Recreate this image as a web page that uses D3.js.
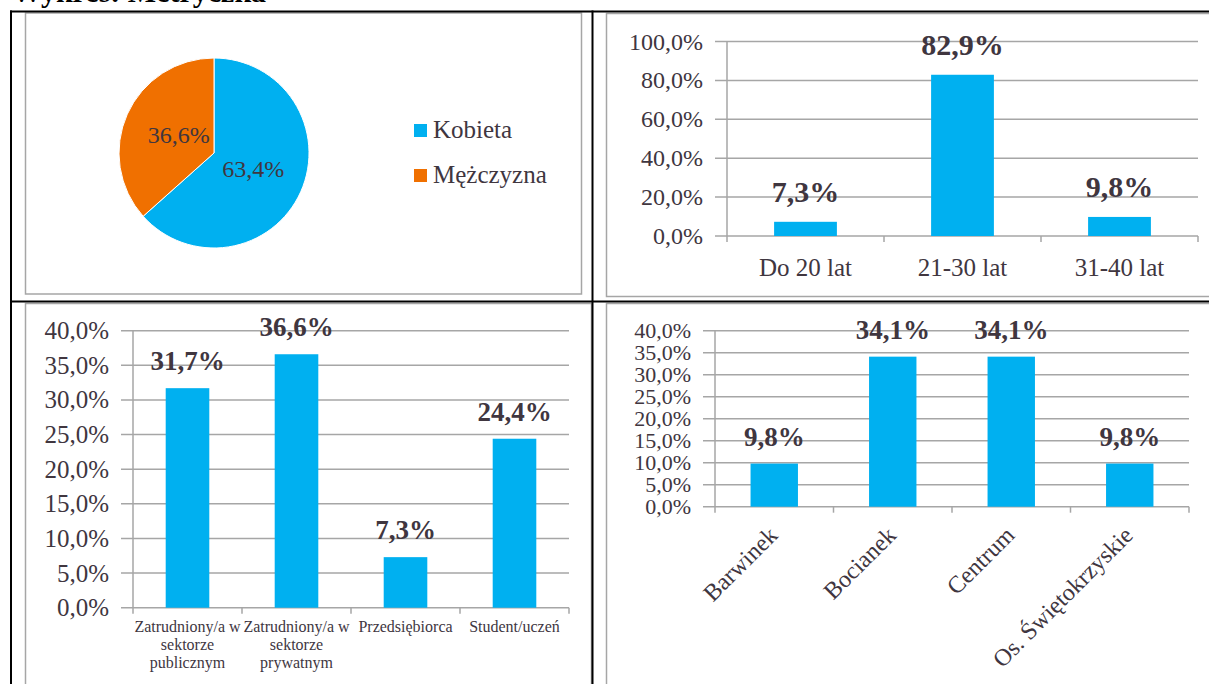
<!DOCTYPE html>
<html>
<head>
<meta charset="utf-8">
<script src="https://cdn.jsdelivr.net/npm/d3@7"></script>
<style>
  html, body { margin: 0; padding: 0; background: #fff; }
  svg { display: block; }
  svg text { font-family: "Liberation Serif", "Times New Roman", "DejaVu Serif", serif; fill: #40363f; }
</style>
</head>
<body>
<div id="chart"></div>
<script>
// dane
const genderLabels = ["Kobieta", "Mężczyzna"];
const genderValues = [63.4, 36.6];

const ageCats = ["Do 20 lat", "21-30 lat", "31-40 lat"];
const ageValues = [7.3, 82.9, 9.8];
const ageTicks = [0, 20, 40, 60, 80, 100];

const jobCats = [
  ["Zatrudniony/a w", "sektorze", "publicznym"],
  ["Zatrudniony/a w", "sektorze", "prywatnym"],
  ["Przedsiębiorca"],
  ["Student/uczeń"]
];
const jobValues = [31.7, 36.6, 7.3, 24.4];
const pctTicks = [0, 5, 10, 15, 20, 25, 30, 35, 40];

const areaCats = ["Barwinek", "Bocianek", "Centrum", "Os. Świętokrzyskie"];
const areaValues = [9.8, 34.1, 34.1, 9.8];

const BAR = "#00b0f0";
const ORANGE = "#f07000";
const GRID = "#a6a6a6";
const SERIF = "'Liberation Serif', 'Times New Roman', 'DejaVu Serif', serif";
const fmt = v => v.toFixed(1).replace(".", ",") + "%";

const svg = d3.select("#chart").append("svg")
  .attr("width", 1209)
  .attr("height", 684)
  .attr("font-family", SERIF);

// tytuł (ucięty u góry)
svg.append("text")
  .attr("x", 12)
  .attr("y", 2)
  .attr("font-family", SERIF)
  .attr("font-size", 30)
  .attr("font-weight", "bold")
  .style("fill", "#000")
  .text("Wykres: Metryczka");

// ramki wykresów (szare)
function box(x, y, w, h) {
  svg.append("rect")
    .attr("x", x).attr("y", y).attr("width", w).attr("height", h)
    .attr("fill", "none").attr("stroke", GRID).attr("stroke-width", 1.5);
}
box(25.5, 13, 556, 281);
box(606.5, 13.5, 640, 283);
box(25.5, 303.5, 566, 420);
box(606.5, 303.5, 640, 420);

// tabela (czarne linie)
const tbl = svg.append("g").attr("stroke", "#000").attr("stroke-width", 2);
tbl.append("line").attr("x1", 10).attr("x2", 1215).attr("y1", 11.5).attr("y2", 11.5);
tbl.append("line").attr("x1", 11).attr("x2", 11).attr("y1", 10.5).attr("y2", 690);
tbl.append("line").attr("x1", 592.5).attr("x2", 592.5).attr("y1", 10.5).attr("y2", 690);
tbl.append("line").attr("x1", 10).attr("x2", 1215).attr("y1", 301.5).attr("y2", 301.5);

// --- wykres kołowy ---
function drawPie() {
  const cx = 214, cy = 153, r = 95;
  const g = svg.append("g").attr("transform", `translate(${cx},${cy})`);
  const pie = d3.pie().sort(null)(genderValues);
  const arc = d3.arc().innerRadius(0).outerRadius(r);
  const labelArc = d3.arc().innerRadius(0).outerRadius(r * 0.86);
  const colors = [BAR, ORANGE];

  g.selectAll("path").data(pie).enter().append("path")
    .attr("d", arc)
    .attr("fill", (d, i) => colors[i])
    .attr("stroke", "#fff")
    .attr("stroke-width", 1);

  g.selectAll("text.lbl").data(pie).enter().append("text")
    .attr("class", "lbl")
    .attr("x", d => labelArc.centroid(d)[0] + 2)
    .attr("y", d => labelArc.centroid(d)[1] - 1)
    .attr("text-anchor", "middle")
    .attr("dominant-baseline", "central")
    .attr("font-family", SERIF)
    .attr("font-size", 24)
    .text(d => fmt(d.data));

  // legenda
  const leg = svg.append("g").attr("transform", "translate(414,124)");
  genderLabels.forEach((name, i) => {
    leg.append("rect")
      .attr("x", 0).attr("y", i * 45)
      .attr("width", 13).attr("height", 13)
      .attr("fill", colors[i]);
    leg.append("text")
      .attr("x", 19).attr("y", i * 45 + 14)
      .attr("font-family", SERIF)
      .attr("font-size", 25)
      .text(name);
  });
}

// --- wykres słupkowy ---
function drawBars(opt) {
  const x = d3.scaleBand()
    .domain(d3.range(opt.values.length))
    .range([opt.x0, opt.x1])
    .paddingInner(0.6)
    .paddingOuter(0.3);
  const y = d3.scaleLinear().domain([0, opt.max]).range([opt.y0, opt.y1]);
  const g = svg.append("g").attr("font-family", SERIF);

  // siatka
  g.selectAll("line.grid").data(opt.ticks).enter().append("line")
    .attr("x1", opt.x0 - 12).attr("x2", opt.x1)
    .attr("y1", d => y(d)).attr("y2", d => y(d))
    .attr("stroke", GRID).attr("stroke-width", 1.5);

  g.selectAll("text.tick").data(opt.ticks).enter().append("text")
    .attr("x", opt.x0 - 24)
    .attr("y", d => y(d))
    .attr("text-anchor", "end")
    .attr("dominant-baseline", "central")
    .attr("font-family", SERIF)
    .attr("font-size", opt.tickSize)
    .text(d => fmt(d));

  // oś Y
  g.append("line")
    .attr("x1", opt.x0).attr("x2", opt.x0)
    .attr("y1", opt.y1).attr("y2", opt.y0)
    .attr("stroke", GRID).attr("stroke-width", 1.5);

  // znaczniki osi X
  const bounds = d3.range(opt.values.length + 1).map(i => opt.x0 + i * x.step());
  g.selectAll("line.xt").data(bounds).enter().append("line")
    .attr("x1", d => d).attr("x2", d => d)
    .attr("y1", opt.y0).attr("y2", opt.y0 + 6)
    .attr("stroke", GRID).attr("stroke-width", 1.5);

  // słupki
  g.selectAll("rect.bar").data(opt.values).enter().append("rect")
    .attr("x", (d, i) => x(i))
    .attr("y", d => y(d))
    .attr("width", x.bandwidth())
    .attr("height", d => opt.y0 - y(d))
    .attr("fill", BAR);

  // etykiety wartości
  g.selectAll("text.val").data(opt.values).enter().append("text")
    .attr("x", (d, i) => x(i) + x.bandwidth() / 2)
    .attr("y", d => y(d) - opt.valGap)
    .attr("text-anchor", "middle")
    .attr("font-family", SERIF)
    .attr("font-size", opt.valSize)
    .attr("font-weight", "bold")
    .text(d => fmt(d));

  return { x, y, g };
}

drawPie();

const age = drawBars({
  values: ageValues, ticks: ageTicks, max: 100,
  x0: 727, x1: 1198, y0: 236, y1: 41.5,
  tickSize: 24, valSize: 30, valGap: 20
});
age.g.selectAll("text.cat").data(ageCats).enter().append("text")
  .attr("x", (d, i) => age.x(i) + age.x.bandwidth() / 2)
  .attr("y", 276)
  .attr("text-anchor", "middle")
  .attr("font-family", SERIF)
  .attr("font-size", 25)
  .text(d => d);

const job = drawBars({
  values: jobValues, ticks: pctTicks, max: 40,
  x0: 133, x1: 569, y0: 607.7, y1: 330.7,
  tickSize: 25, valSize: 27, valGap: 18
});
jobCats.forEach((lines, i) => {
  const t = job.g.append("text")
    .attr("text-anchor", "middle")
    .attr("font-family", SERIF)
    .attr("font-size", 16);
  lines.forEach((ln, j) => {
    t.append("tspan")
      .attr("x", job.x(i) + job.x.bandwidth() / 2)
      .attr("y", 632 + j * 18)
      .text(ln);
  });
});

const area = drawBars({
  values: areaValues, ticks: pctTicks, max: 40,
  x0: 715, x1: 1189, y0: 506.7, y1: 330.7,
  tickSize: 22, valSize: 27, valGap: 18
});
area.g.selectAll("text.cat").data(areaCats).enter().append("text")
  .attr("transform", (d, i) => {
    const cx = area.x(i) + area.x.bandwidth() / 2 - 1;
    return `translate(${cx},${531}) rotate(-45)`;
  })
  .attr("text-anchor", "end")
  .attr("dominant-baseline", "central")
  .attr("font-family", SERIF)
  .attr("font-size", 24)
  .text(d => d);
</script>
</body>
</html>
